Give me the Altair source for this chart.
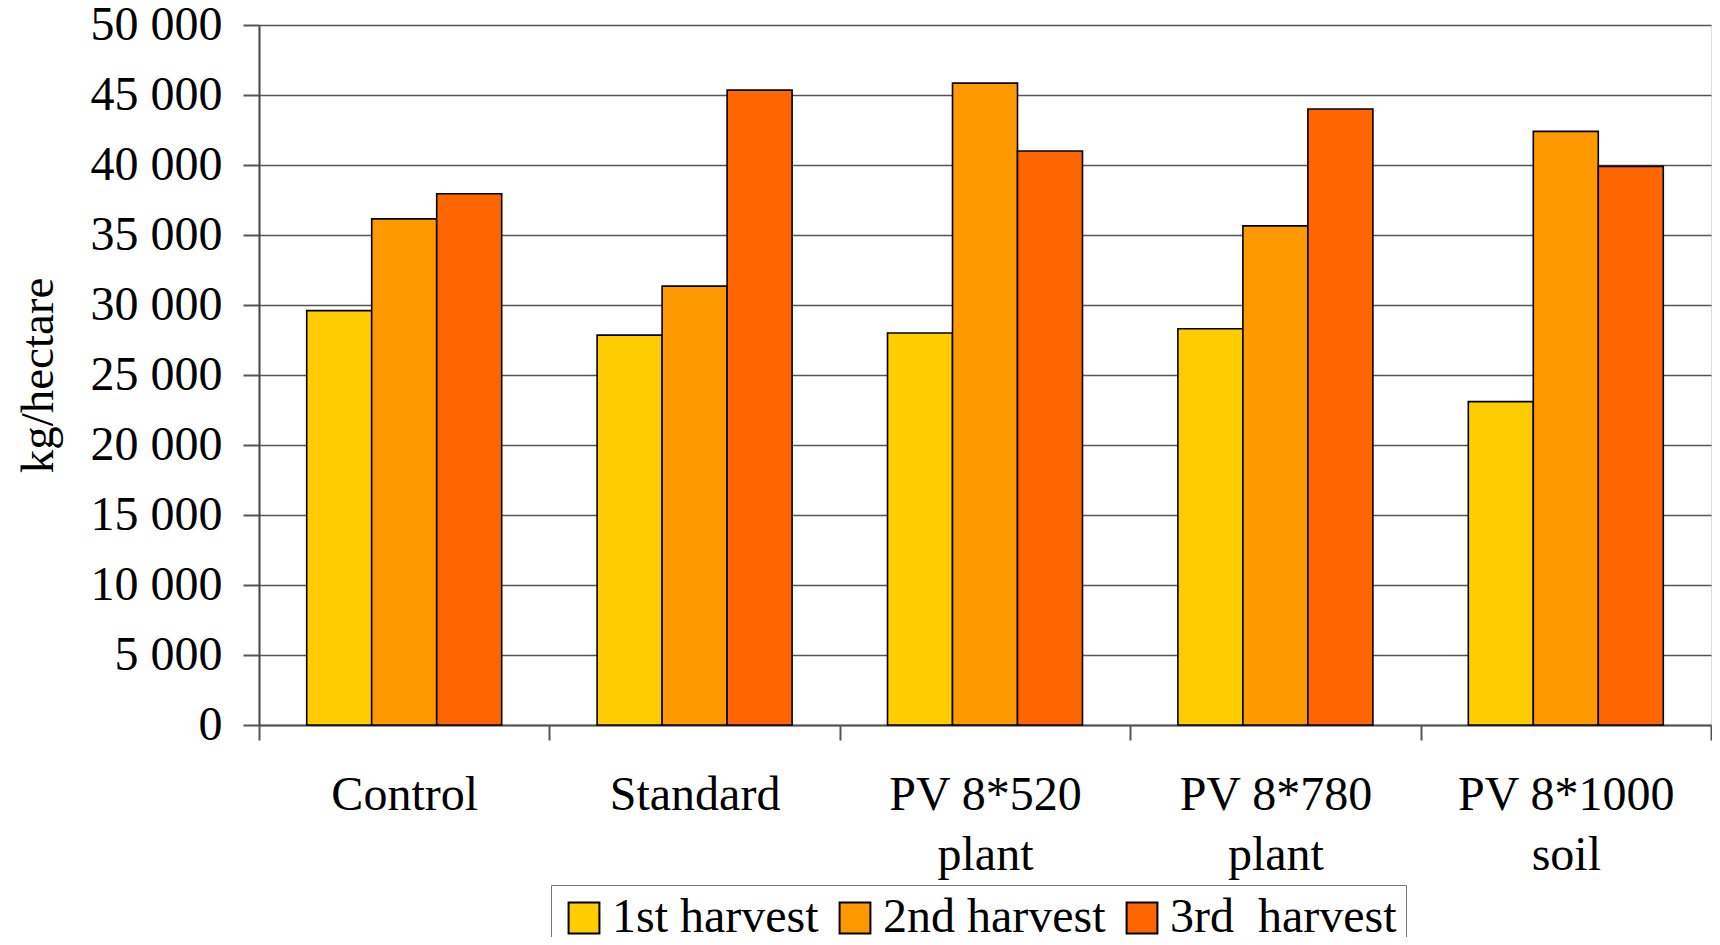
import altair as alt
import pandas as pd

categories = ["Control", "Standard", "PV 8*520 plant", "PV 8*780 plant", "PV 8*1000 soil"]
series = ["1st harvest", "2nd harvest", "3rd\u00a0 harvest"]
first_harvest = [29600, 27850, 28000, 28300, 23100]
second_harvest = [36150, 31350, 45850, 35650, 42400]
third_harvest = [37950, 45350, 41000, 44000, 39900]
colors = ["#FFCC00", "#FF9900", "#FF6600"]

rows = []
for i, c in enumerate(categories):
    for s, vals in zip(series, [first_harvest, second_harvest, third_harvest]):
        rows.append({"category": c, "series": s, "value": vals[i]})
df = pd.DataFrame(rows)

FONT = "Liberation Serif"

label_expr = ("indexof(datum.label, 'PV') == 0 ? "
              "[slice(datum.label, 0, lastindexof(datum.label, ' ')), "
              "slice(datum.label, lastindexof(datum.label, ' ') + 1)] : datum.label")

chart = alt.Chart(df).mark_bar(stroke="black", strokeWidth=1.6).encode(
    x=alt.X("category:N", sort=categories,
            scale=alt.Scale(paddingInner=0, paddingOuter=0),
            axis=alt.Axis(title=None, labelAngle=0, labelFont=FONT, labelFontSize=48,
                          labelColor="black", labelExpr=label_expr, labelLineHeight=60,
                          labelPadding=31, tickSize=15, tickColor="#555", tickWidth=2,
                          tickBand="extent", domainColor="#555", domainWidth=2,
                          labelBaseline="top", labelLimit=600)),
    xOffset=alt.XOffset("series:N", sort=series,
                        scale=alt.Scale(paddingInner=0, paddingOuter=0.734)),
    y=alt.Y("value:Q", scale=alt.Scale(domain=[0, 50000]),
            axis=alt.Axis(title="kg/hectare", values=list(range(0, 50001, 5000)),
                          labelExpr="replace(format(datum.value, ',d'), ',', ' ')",
                          labelFont=FONT, labelFontSize=48, labelColor="black",
                          labelPadding=21, tickSize=16, tickColor="#555", tickWidth=2,
                          titleFont=FONT, titleFontSize=47, titleFontWeight="normal",
                          titleColor="black", titlePadding=28,
                          domainColor="#444", domainWidth=2,
                          grid=True, gridColor="#555", gridWidth=1.5)),
    color=alt.Color("series:N", sort=series,
                    scale=alt.Scale(domain=series, range=colors),
                    legend=alt.Legend(title=None, orient="none", legendX=292, legendY=860,
                                      direction="horizontal", columns=3,
                                      labelFont=FONT, labelFontSize=48, labelColor="black",
                                      symbolType="square", symbolSize=950,
                                      symbolStrokeColor="black", symbolStrokeWidth=2,
                                      labelOffset=4, columnPadding=12,
                                      padding=9, strokeColor="#777", fillColor="white",
                                      labelLimit=400)),
).properties(
    width=1452, height=700,
    autosize=alt.AutoSizeParams(type="none"),
    padding={"left": 251, "top": 17, "right": 1, "bottom": 212},
).configure_view(stroke="#888", strokeWidth=2).configure(background="white")

chart.save("out.html", embed_options={"renderer": "svg", "actions": False})
